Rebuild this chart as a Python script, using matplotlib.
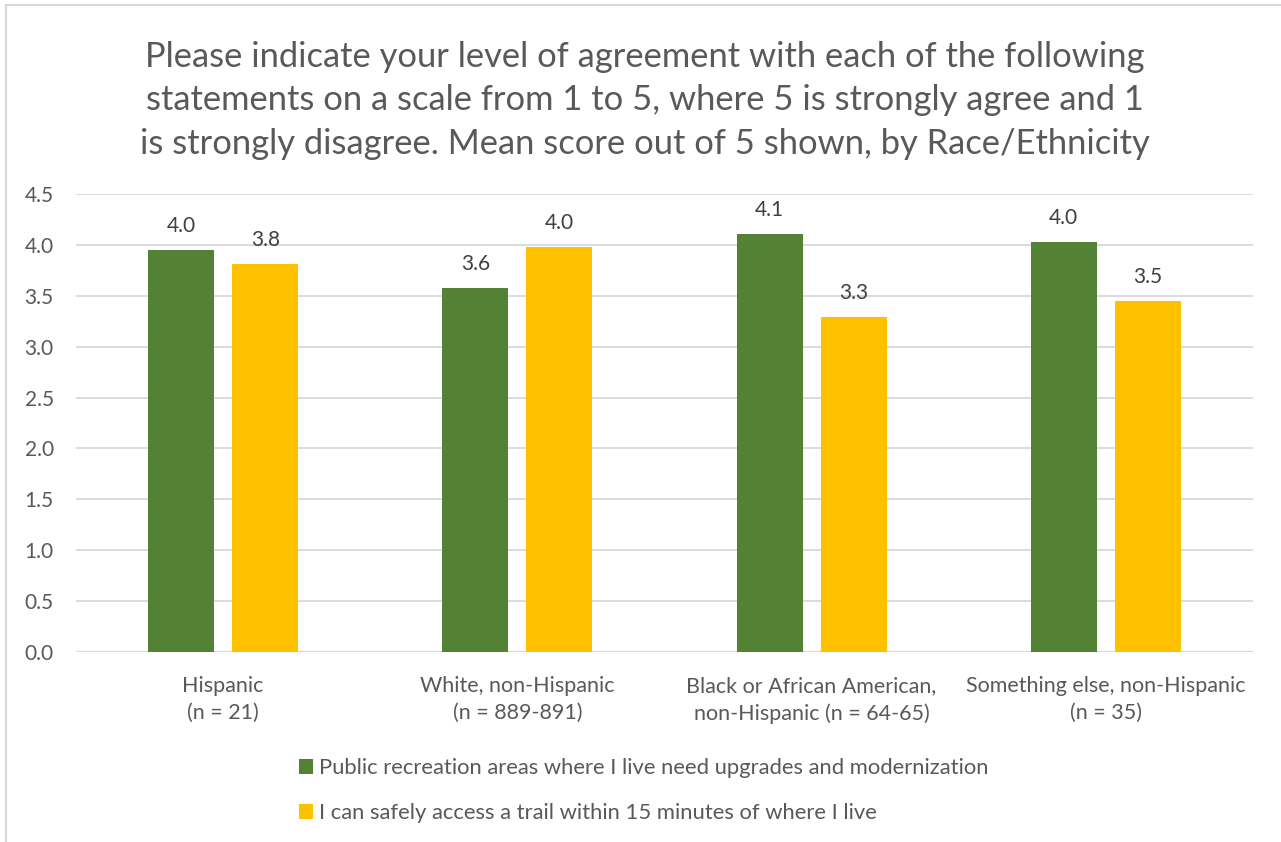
import numpy as np
import matplotlib
matplotlib.use("Agg")
import matplotlib.pyplot as plt
from matplotlib.patches import Patch
from matplotlib.lines import Line2D

# Chart data
categories = ["Hispanic\n(n = 21)", "White, non-Hispanic\n(n = 889-891)",
              "Black or African American,\nnon-Hispanic (n = 64-65)",
              "Something else, non-Hispanic\n(n = 35)"]
upgrades = [3.95, 3.58, 4.11, 4.03]
trail_access = [3.81, 3.98, 3.29, 3.45]
series_names = ["Public recreation areas where I live need upgrades and modernization",
                "I can safely access a trail within 15 minutes of where I live"]
yticks = [0.0, 0.5, 1.0, 1.5, 2.0, 2.5, 3.0, 3.5, 4.0, 4.5]

title = ("Please indicate your level of agreement with each of the following\n"
         "statements on a scale from 1 to 5, where 5 is strongly agree and 1\n"
         "is strongly disagree. Mean score out of 5 shown, by Race/Ethnicity")

green = "#548235"
yellow = "#FFC000"
txt = "#595959"
grid = "#D9D9D9"

plt.rcParams['font.family'] = ['Lato', 'DejaVu Sans']

fig = plt.figure(figsize=(12.81, 8.42), dpi=100)
ax = fig.add_axes([76 / 1281, 1 - 652 / 842, (1253 - 76) / 1281, (652 - 194) / 842])

x = np.arange(len(categories))
w = 0.224
off = 0.143
b1 = ax.bar(x - off, upgrades, w, color=green, zorder=3)
b2 = ax.bar(x + off, trail_access, w, color=yellow, zorder=3)

for bars, vals in [(b1, upgrades), (b2, trail_access)]:
    for r, v in zip(bars, vals):
        ax.annotate(f"{v:.1f}", (r.get_x() + r.get_width() / 2, v),
                    xytext=(0, 10), textcoords="offset points",
                    ha="center", va="bottom", fontsize=15, color="#404040")

ax.set_xlim(-0.5, len(categories) - 0.5)
ax.set_ylim(0, 4.5)
ax.set_yticks(yticks)
ax.set_yticklabels([f"{t:.1f}" for t in yticks])
ax.set_xticks(x)
ax.set_xticklabels(categories, linespacing=1.45)
ax.tick_params(axis="both", length=0, labelcolor=txt)
ax.tick_params(axis="y", pad=16, labelsize=15)
ax.tick_params(axis="x", pad=17, labelsize=15.5)
ax.yaxis.grid(True, color=grid, linewidth=1.3, zorder=0)
for s in ax.spines.values():
    s.set_visible(False)
ax.axhline(0, color=grid, linewidth=1.6, zorder=2)

fig.suptitle(title, x=645 / 1281, y=1 - 41 / 842, fontsize=24.8, color=txt,
             va="top", linespacing=1.44)

handles = [Patch(facecolor=green), Patch(facecolor=yellow)]
fig.legend(handles, series_names, loc="upper left",
           bbox_to_anchor=(288 / 1281, 1 - 747 / 842), frameon=False,
           fontsize=15.8, labelcolor=txt, handlelength=0.65, handleheight=0.65,
           handletextpad=0.25, labelspacing=1.15, borderpad=0)

# chart border (left and top edges visible)
fig.add_artist(Line2D([6 / 1281, 6 / 1281], [0, 1 - 5 / 842], transform=fig.transFigure,
                      color="#D9D9D9", linewidth=1.5))
fig.add_artist(Line2D([6 / 1281, 1], [1 - 5 / 842, 1 - 5 / 842], transform=fig.transFigure,
                      color="#D9D9D9", linewidth=1.5))

fig.savefig("out.png", dpi=100, facecolor="white")
